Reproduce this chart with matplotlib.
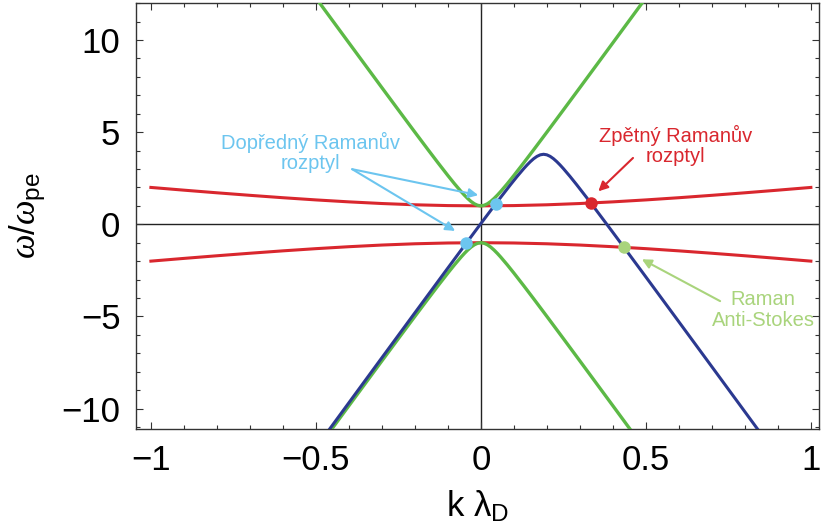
import numpy as np
import matplotlib.pyplot as plt
from matplotlib.ticker import MultipleLocator, FuncFormatter

plt.rcParams['font.family'] = ['Liberation Sans', 'DejaVu Sans']
plt.rcParams['mathtext.fontset'] = 'custom'
plt.rcParams['mathtext.rm'] = 'Liberation Sans'
plt.rcParams['mathtext.sf'] = 'Liberation Sans'
plt.rcParams['mathtext.it'] = 'Liberation Serif:italic'

# ----------------------------
# dispersion branches (k lambda_D, omega/omega_pe)
# ----------------------------
# Langmuir (Bohm-Gross) branches
langmuir_k = [-1.0, -0.9, -0.8, -0.7, -0.6, -0.5, -0.4, -0.3, -0.2, -0.1, 0.0,
              0.1, 0.2, 0.3, 0.4, 0.5, 0.6, 0.7, 0.8, 0.9, 1.0]
langmuir_up = [2.0, 1.852, 1.709, 1.572, 1.442, 1.323, 1.217, 1.127, 1.058, 1.015, 1.0,
               1.015, 1.058, 1.127, 1.217, 1.323, 1.442, 1.572, 1.709, 1.852, 2.0]
langmuir_lo = [-2.0, -1.852, -1.709, -1.572, -1.442, -1.323, -1.217, -1.127, -1.058, -1.015, -1.0,
               -1.015, -1.058, -1.127, -1.217, -1.323, -1.442, -1.572, -1.709, -1.852, -2.0]

# electromagnetic wave branches
em_k = [-0.5, -0.4, -0.3, -0.25, -0.2, -0.16, -0.13, -0.1, -0.08, -0.06, -0.05, -0.04,
        -0.03, -0.02, -0.01, 0.0, 0.01, 0.02, 0.03, 0.04, 0.05, 0.06, 0.08, 0.1,
        0.13, 0.16, 0.2, 0.25, 0.3, 0.4, 0.5]
em_up = [12.288, 9.849, 7.416, 6.205, 5.0, 4.045, 3.338, 2.646, 2.2, 1.778, 1.581, 1.4,
         1.241, 1.114, 1.03, 1.0, 1.03, 1.114, 1.241, 1.4, 1.581, 1.778, 2.2, 2.646,
         3.338, 4.045, 5.0, 6.205, 7.416, 9.849, 12.288]
em_lo = [-12.288, -9.849, -7.416, -6.205, -5.0, -4.045, -3.338, -2.646, -2.2, -1.778, -1.581, -1.4,
         -1.241, -1.114, -1.03, -1.0, -1.03, -1.114, -1.241, -1.4, -1.581, -1.778, -2.2, -2.646,
         -3.338, -4.045, -5.0, -6.205, -7.416, -9.849, -12.288]

# pump minus scattered light
pump_k = [-0.51, -0.41, -0.31, -0.21, -0.11, -0.06, -0.01, 0.03, 0.06, 0.09, 0.11, 0.13,
          0.14, 0.15, 0.16, 0.17, 0.18, 0.19, 0.2, 0.21, 0.22, 0.23, 0.24, 0.25,
          0.27, 0.29, 0.32, 0.35, 0.39, 0.44, 0.49, 0.59, 0.69, 0.79, 0.89]
pump_w = [-12.376, -9.931, -7.488, -5.049, -2.616, -1.405, -0.2, 0.755, 1.462, 2.154, 2.6, 3.022,
          3.219, 3.4, 3.559, 3.686, 3.770, 3.8, 3.770, 3.686, 3.559, 3.4, 3.219, 3.022,
          2.6, 2.154, 1.462, 0.755, -0.2, -1.405, -2.616, -5.049, -7.488, -9.931, -12.376]

# resonance points
forward_k = [0.045, -0.045]
forward_w = [1.1, -1.0]
backward_k = [0.335]
backward_w = [1.16]
antistokes_k = [0.434]
antistokes_w = [-1.25]

C_RED = '#d9272e'
C_GREEN = '#5cb946'
C_BLUE = '#2b3990'
C_LBLUE = '#6cc5ef'
C_LGREEN = '#a9d47c'

fig = plt.figure(figsize=(8.21, 5.32), dpi=100)
ax = fig.add_axes([0.1653, 0.194, 0.832, 0.800])

ax.axhline(0, color='#222222', lw=1.0, zorder=1)
ax.axvline(0, color='#222222', lw=1.0, zorder=1)

ax.plot(langmuir_k, langmuir_up, color=C_RED, lw=2.2, zorder=2)
ax.plot(langmuir_k, langmuir_lo, color=C_RED, lw=2.2, zorder=2)
ax.plot(em_k, em_up, color=C_GREEN, lw=2.4, zorder=3)
ax.plot(em_k, em_lo, color=C_GREEN, lw=2.4, zorder=3)
ax.plot(pump_k, pump_w, color=C_BLUE, lw=2.2, zorder=4)

ax.plot(forward_k, forward_w, 'o', color=C_LBLUE, ms=9, mec='none', zorder=5)
ax.plot(backward_k, backward_w, 'o', color=C_RED, ms=9, mec='none', zorder=5)
ax.plot(antistokes_k, antistokes_w, 'o', color=C_LGREEN, ms=9, mec='none', zorder=5)

# labels and arrows
arrow_kw = dict(arrowstyle='-|>', lw=1.5, mutation_scale=14, shrinkA=0, shrinkB=0)
text_kw = dict(fontsize=14.5, ha='center', va='center', linespacing=1.1, zorder=6)

ax.text(-0.517, 3.91, 'Dopředný Ramanův\nrozptyl', color=C_LBLUE, **text_kw)
ax.annotate('', xy=(-0.008, 1.58), xytext=(-0.39, 2.99),
            arrowprops=dict(color=C_LBLUE, **arrow_kw), zorder=6)
ax.annotate('', xy=(-0.078, -0.36), xytext=(-0.39, 2.99),
            arrowprops=dict(color=C_LBLUE, **arrow_kw), zorder=6)

ax.text(0.589, 4.29, 'Zpětný Ramanův\nrozptyl', color=C_RED, **text_kw)
ax.annotate('', xy=(0.356, 1.79), xytext=(0.461, 3.6),
            arrowprops=dict(color=C_RED, **arrow_kw), zorder=6)

ax.text(0.855, -4.65, 'Raman\nAnti-Stokes', color=C_LGREEN, **text_kw)
ax.annotate('', xy=(0.488, -1.9), xytext=(0.725, -4.17),
            arrowprops=dict(color=C_LGREEN, **arrow_kw), zorder=6)

ax.set_xlim(-1.046, 1.024)
ax.set_ylim(-11.1, 12.0)

ax.xaxis.set_major_locator(MultipleLocator(0.5))
ax.xaxis.set_minor_locator(MultipleLocator(0.1))
ax.yaxis.set_major_locator(MultipleLocator(5))
ax.yaxis.set_minor_locator(MultipleLocator(1))
fmt = FuncFormatter(lambda v, _: f'{v:g}'.replace('-', '\u2212'))
ax.xaxis.set_major_formatter(fmt)
ax.yaxis.set_major_formatter(fmt)

ax.tick_params(which='both', direction='in', top=True, right=True, color='#333333', width=0.8)
ax.tick_params(which='major', length=5)
ax.tick_params(which='minor', length=3)
ax.tick_params(axis='x', which='major', labelsize=25, pad=11)
ax.tick_params(axis='y', which='major', labelsize=25, pad=11)
for s in ax.spines.values():
    s.set_color('#333333')
    s.set_linewidth(1.0)

ax.set_xlabel(r'k $\mathrm{\lambda_{D}}$', fontsize=25, labelpad=8)
ax.set_ylabel(r'$\omega/\omega_{\mathrm{pe}}$', fontsize=25, labelpad=10)

fig.savefig('out.png', dpi=100)
